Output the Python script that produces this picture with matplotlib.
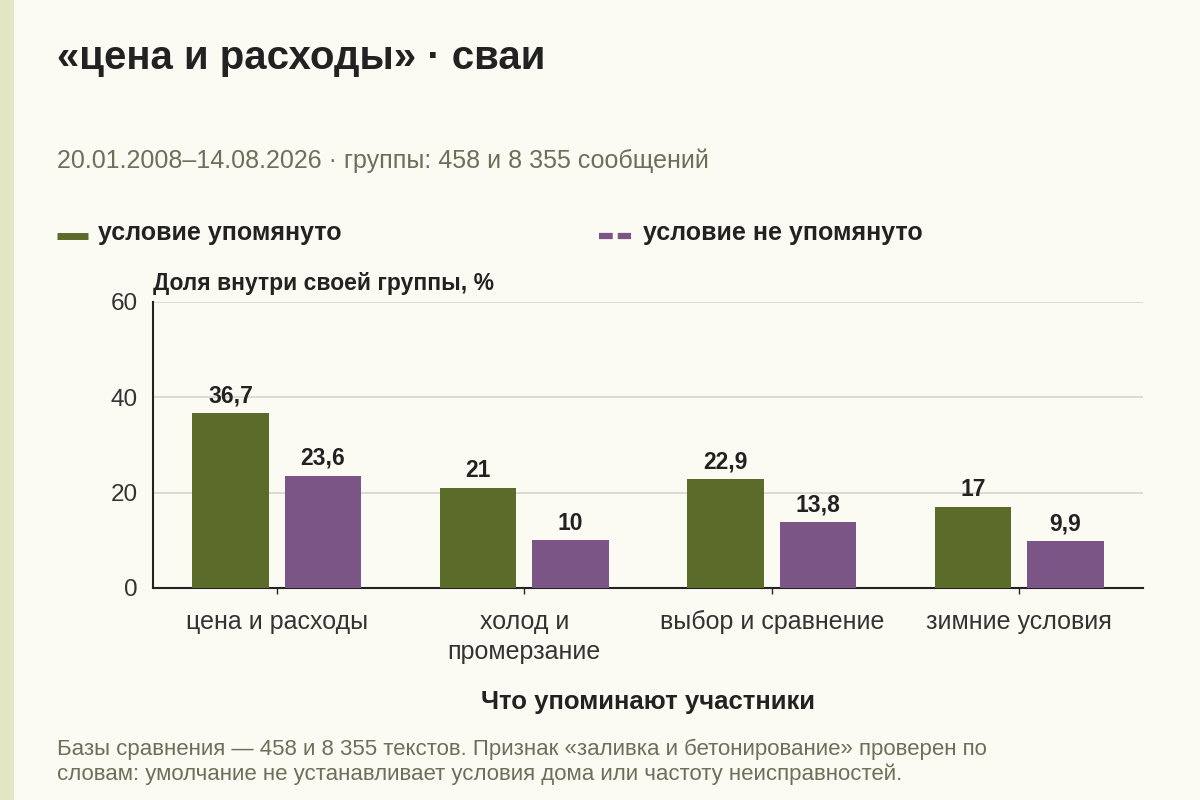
import numpy as np
import matplotlib
matplotlib.use("Agg")
import matplotlib.pyplot as plt
from matplotlib.lines import Line2D
from matplotlib.patches import Rectangle

# === Data ===
categories = ["цена и расходы", "холод и\nпромерзание", "выбор и сравнение", "зимние условия"]
mentioned = [36.7, 21, 22.9, 17]
not_mentioned = [23.6, 10, 13.8, 9.9]
y_ticks = [0, 20, 40, 60]

# === Style ===
plt.rcParams['font.family'] = ['Liberation Sans', 'DejaVu Sans']
BG = "#fcfbf3"
GREEN = "#5b6b29"
PURPLE = "#7b5585"
DARK = "#222222"
MUTED = "#6e6e5a"

fig = plt.figure(figsize=(12, 8), dpi=100, facecolor=BG)
fig.add_artist(Rectangle((0, 0), 14 / 1200, 1, transform=fig.transFigure,
                         facecolor="#e2e6c2", edgecolor="none"))

ax = fig.add_axes([0.1275, 0.265, 0.825, 0.3575], facecolor=BG)

x = np.arange(len(categories))
w = 0.31
off = 0.187
b1 = ax.bar(x - off, mentioned, w, color=GREEN, zorder=3)
b2 = ax.bar(x + off, not_mentioned, w, color=PURPLE, zorder=3)

def fmt(v):
    return f"{v:g}".replace(".", ",")

for bars, vals in ((b1, mentioned), (b2, not_mentioned)):
    for r, v in zip(bars, vals):
        ax.annotate(fmt(v), (r.get_x() + r.get_width() / 2, v),
                    xytext=(0, 4), textcoords="offset points",
                    ha="center", va="bottom", fontsize=16.5, fontweight="bold",
                    color=DARK, zorder=4)

ax.set_xlim(-0.5, len(categories) - 0.5)
ax.set_ylim(0, 60)
ax.set_yticks(y_ticks)
ax.set_yticklabels([str(t) for t in y_ticks])
ax.set_xticks(x)
ax.set_xticklabels(categories, linespacing=1.3)
ax.tick_params(axis="y", length=0, labelsize=17.5, labelcolor="#333333", pad=11)
ax.tick_params(axis="x", length=4, width=1, color=DARK, labelsize=18,
               labelcolor="#333333", pad=12)
ax.grid(axis="y", color="#d6d4cc", linewidth=1.2, zorder=0)
for s in ("top", "right"):
    ax.spines[s].set_visible(False)
for s in ("left", "bottom"):
    ax.spines[s].set_color(DARK)
    ax.spines[s].set_linewidth(1.5)

ax.text(0, 1.025, "Доля внутри своей группы, %", transform=ax.transAxes,
        ha="left", va="bottom", fontsize=16.5, fontweight="bold", color=DARK)
ax.set_xlabel("Что упоминают участники", fontsize=18.5, fontweight="bold",
              color=DARK, labelpad=19)

# === Titles ===
fig.text(57 / 1200, 1 - 58 / 800, "«цена и расходы» · сваи", fontsize=29,
         fontweight="bold", color=DARK, va="center", ha="left")
fig.text(57 / 1200, 1 - 161 / 800,
         "20.01.2008–14.08.2026 · группы: 458 и 8 355 сообщений",
         fontsize=18, color=MUTED, va="center", ha="left")

# === Legend ===
fig.add_artist(Line2D([57 / 1200, 88 / 1200], [1 - 236 / 800] * 2,
                      transform=fig.transFigure, color=GREEN, linewidth=5,
                      solid_capstyle="butt"))
fig.text(98 / 1200, 1 - 233 / 800, "условие упомянуто", fontsize=18,
         fontweight="bold", color=DARK, va="center", ha="left")
fig.add_artist(Line2D([599 / 1200, 631 / 1200], [1 - 236 / 800] * 2,
                      transform=fig.transFigure, color=PURPLE, linewidth=4.5,
                      linestyle=(0, (2.2, 0.8)), dash_capstyle="butt"))
fig.text(643 / 1200, 1 - 233 / 800, "условие не упомянуто", fontsize=18,
         fontweight="bold", color=DARK, va="center", ha="left")

# === Footnote ===
fig.text(57 / 1200, 1 - 762 / 800,
         "Базы сравнения — 458 и 8 355 текстов. Признак «заливка и бетонирование» проверен по\n"
         "словам: умолчание не устанавливает условия дома или частоту неисправностей.",
         fontsize=16, color=MUTED, va="center", ha="left", linespacing=1.25)

fig.savefig("out.png", dpi=100, facecolor=BG)
